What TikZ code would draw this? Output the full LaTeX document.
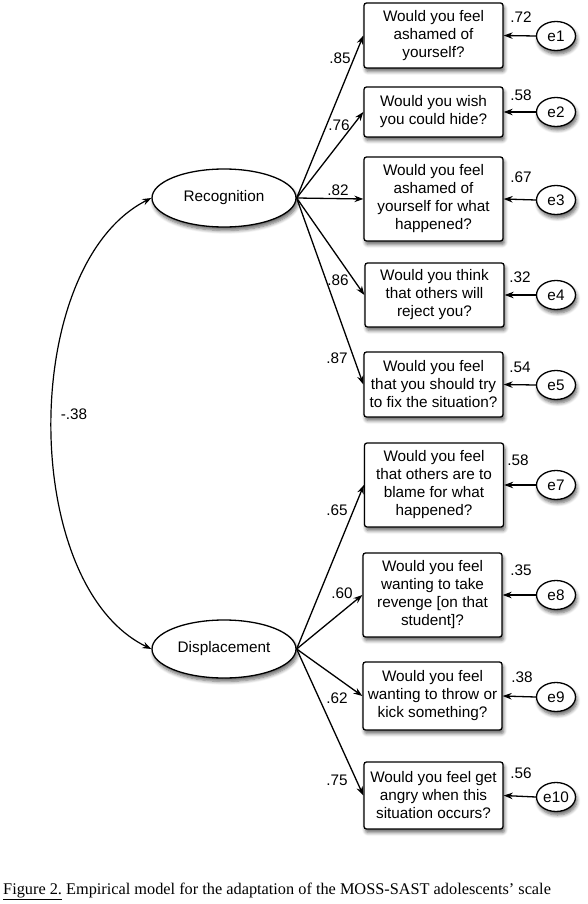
\documentclass[tikz,border=0pt]{standalone}
\usepackage{fontspec}
\setmainfont{Liberation Sans}
\newfontfamily\capfont{Liberation Serif}
\usetikzlibrary{shapes.geometric,arrows.meta,shadows.blur}
\begin{document}
\begin{tikzpicture}[x=1pt,y=1pt,
  font=\fontsize{15.3}{18}\selectfont,
  shad/.style={blur shadow={shadow blur steps=6, shadow xshift=1.5pt, shadow yshift=-3.5pt, shadow opacity=60, shadow blur radius=3.5pt}},
  item/.style={draw, line width=1.3pt, rounded corners=2.5pt, fill=white, align=center,
    minimum width=139pt, inner sep=1pt, shad},
  latent/.style={ellipse, draw, line width=1.3pt, fill=white, minimum width=144pt,
    minimum height=58pt, inner sep=0pt, shad},
  err/.style={ellipse, draw, line width=1.3pt, fill=white, minimum width=39pt,
    minimum height=29pt, inner sep=0pt, shad},
  arr/.style={line width=1.3pt, -{Stealth[length=9pt,width=6.5pt]}},
  lab/.style={inner sep=0pt}]
\useasboundingbox (0,0) rectangle (588,-904);

% latent variables
\node[latent] (rec) at (224,-198) {Recognition};
\node[latent] (dis) at (224,-649) {Displacement};

% items
\node[item, minimum height=65pt] (b1) at (433.5,-35.5) {Would you feel\\ashamed of\\yourself?};
\node[item, minimum height=50pt] (b2) at (433.5,-112) {Would you wish\\you could hide?};
\node[item, minimum height=84pt] (b3) at (433.5,-199) {Would you feel\\ashamed of\\yourself for what\\happened?};
\node[item, minimum height=64pt] (b4) at (434.5,-295) {Would you think\\that others will\\reject you?};
\node[item, minimum height=65pt] (b5) at (433.5,-384.5) {Would you feel\\that you should try\\to fix the situation?};
\node[item, minimum height=84pt] (b7) at (434,-485) {Would you feel\\that others are to\\blame for what\\happened?};
\node[item, minimum height=84pt] (b8) at (432.5,-595) {Would you feel\\wanting to take\\revenge [on that\\student]?};
\node[item, minimum height=68pt] (b9) at (432.5,-696) {Would you feel\\wanting to throw or\\kick something?};
\node[item, minimum height=67pt] (b10) at (433.5,-795.5) {Would you feel get\\angry when this\\situation occurs?};

% errors
\node[err] (e1) at (556,-36) {e1};
\node[err] (e2) at (556,-112) {e2};
\node[err] (e3) at (556,-200) {e3};
\node[err] (e4) at (556,-295) {e4};
\node[err] (e5) at (556,-385) {e5};
\node[err] (e7) at (556,-485) {e7};
\node[err] (e8) at (556,-595) {e8};
\node[err] (e9) at (556,-697) {e9};
\node[err] (e10) at (556,-797) {e10};

% loadings
\foreach \b in {b1,b2,b3,b4,b5} \draw[arr] (rec.east) -- (\b.west);
\foreach \b in {b7,b8,b9,b10} \draw[arr] (dis.east) -- (\b.west);
\foreach \e/\b in {e1/b1,e2/b2,e3/b3,e4/b4,e5/b5,e7/b7,e8/b8,e9/b9,e10/b10}
  \draw[arr] (\e.west) -- (\b.east);

% covariance
\draw[line width=1.2pt, {Stealth[length=9pt,width=6.5pt]}-{Stealth[length=9pt,width=6.5pt]}]
  (rec.west) .. controls (19,-265) and (19,-585) .. (dis.west);
\node[lab] (cov) at (74,-414) {-.38};

% loading labels
\node[lab] (l1) at (340,-58) {.85};
\node[lab] (l2) at (339,-125) {.76};
\node[lab] (l3) at (338,-190) {.82};
\node[lab] (l4) at (338,-280) {.86};
\node[lab] (l5) at (337,-358) {.87};
\node[lab] (l7) at (337,-510) {.65};
\node[lab] (l8) at (342,-593) {.60};
\node[lab] (l9) at (337,-698) {.62};
\node[lab] (l10) at (337,-780) {.75};

% r-square labels
\node[lab] (r1) at (521,-17) {.72};
\node[lab] (r2) at (521,-95) {.58};
\node[lab] (r3) at (521,-177) {.67};
\node[lab] (r4) at (520,-277) {.32};
\node[lab] (r5) at (520,-367) {.54};
\node[lab] (r7) at (518,-460) {.58};
\node[lab] (r8) at (521,-570) {.35};
\node[lab] (r9) at (522,-677) {.38};
\node[lab] (r10) at (521,-773) {.56};

% caption
\node[anchor=base west, inner sep=0pt, font=\capfont\fontsize{16.3}{19}\selectfont] (cap) at (3,-894)
  {\underline{Figure 2.} Empirical model for the adaptation of the MOSS-SAST adolescents’ scale};
\end{tikzpicture}
\end{document}
